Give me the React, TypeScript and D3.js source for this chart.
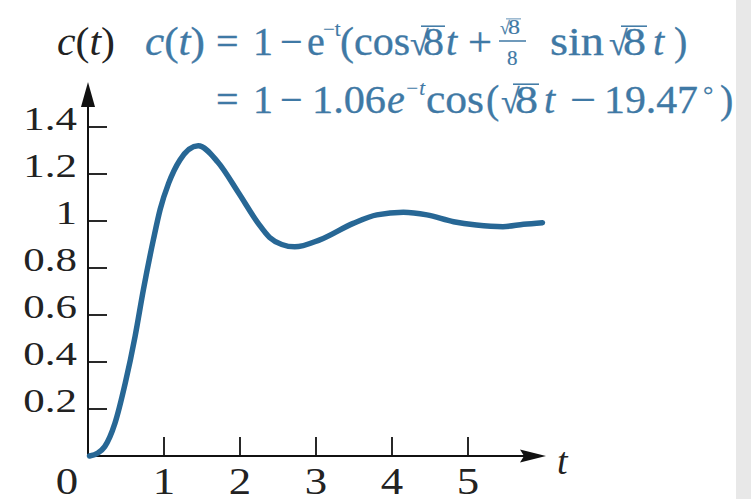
import React from "react";
import * as d3 from "d3";

// Step response c(t), sampled along the drawn curve
const tValues = [0.02, 0.13, 0.22, 0.355, 0.49, 0.62, 0.73, 0.86, 0.95, 1.06, 1.21, 1.45, 1.71, 1.98, 2.24, 2.39, 2.55, 2.72, 3.05, 3.49, 3.8, 4.15, 4.46, 4.81, 5.11, 5.46, 5.73, 5.98];
const cValues = [0.0, 0.013, 0.04, 0.14, 0.31, 0.51, 0.71, 0.92, 1.05, 1.16, 1.26, 1.32, 1.25, 1.12, 0.99, 0.93, 0.9, 0.89, 0.92, 0.99, 1.026, 1.037, 1.026, 0.997, 0.983, 0.976, 0.986, 0.993];

const xTicks = [1, 2, 3, 4, 5];
const xTickLabels = ["1", "2", "3", "4", "5"];
const yTicks = [0.2, 0.4, 0.6, 0.8, 1, 1.2, 1.4];
const yTickLabels = ["0.2", "0.4", "0.6", "0.8", "1", "1.2", "1.4"];

const W = 751;
const H = 499;
const AXIS = "#111";
const CURVE = "#276795";
const INK = "#3f79a5";
const FONT = "'Liberation Serif','Times New Roman',Times,serif";

type SegProps = {
  x: number;
  y: number;
  size?: number;
  italic?: boolean;
  len?: number;
  fill?: string;
  children: React.ReactNode;
};

function Seg({ x, y, size = 40, italic = false, len, fill = INK, children }: SegProps) {
  return (
    <text
      x={x}
      y={y}
      fontSize={size}
      fontFamily={FONT}
      fontStyle={italic ? "italic" : "normal"}
      fill={fill}
      stroke={fill}
      strokeWidth={size / 120}
      textLength={len}
      lengthAdjust={len ? "spacingAndGlyphs" : undefined}
    >
      {children}
    </text>
  );
}

// radical sign followed by an overlined radicand
function Root({ x, y, size = 40, gap = 13, width = 21 }: { x: number; y: number; size?: number; gap?: number; width?: number }) {
  const top = y - size * 0.72;
  return (
    <g>
      <Seg x={x} y={y} size={size * 0.85}>√</Seg>
      <line x1={x + gap - 2} x2={x + gap + width + 1} y1={top} y2={top} stroke={INK} strokeWidth={size / 26} />
      <Seg x={x + gap} y={y} size={size} len={width}>8</Seg>
    </g>
  );
}

export default function App() {
  const x = d3.scaleLinear().domain([0, 6]).range([88, 544]);
  const y = d3.scaleLinear().domain([0, 1.4]).range([456, 127]);

  const pts: [number, number][] = tValues.map((t, i) => [t, cValues[i]]);
  const path = d3
    .line<[number, number]>()
    .x((d) => x(d[0]))
    .y((d) => y(d[1]))
    .curve(d3.curveMonotoneX)(pts);

  const x0 = x(0);
  const y0 = y(0);
  const B1 = 55;
  const B2 = 113;

  return (
    <svg
      width={W}
      height={H}
      viewBox={`0 0 ${W} ${H}`}
      style={{ position: "absolute", left: 0, top: 0, background: "#fff" }}
    >
      <rect x={0} y={0} width={W} height={H} fill="#fff" />
      <rect x={736} y={0} width={W - 736} height={H} fill="#e8e8e8" />

      {/* axes */}
      <line x1={x0} x2={x0} y1={y0 + 1} y2={102} stroke={AXIS} strokeWidth={2} />
      <polygon points={`${x0},82 ${x0 - 7},107 ${x0 + 7},107`} fill={AXIS} />
      <line x1={x0 - 1} x2={524} y1={y0} y2={y0} stroke={AXIS} strokeWidth={2} />
      <polygon points={`546,${y0} 520,${y0 - 6.5} 524,${y0} 520,${y0 + 6.5}`} fill={AXIS} />

      {/* y ticks and labels */}
      {yTicks.map((v, i) => (
        <g key={`y${i}`}>
          <line x1={x0} x2={x0 + 19} y1={y(v)} y2={y(v)} stroke={AXIS} strokeWidth={1.8} />
          <text
            transform={`translate(77,${y(v) + 3}) scale(1.3,1)`}
            textAnchor="end"
            fontSize={33}
            fontFamily={FONT}
            fill="#222"
          >
            {yTickLabels[i]}
          </text>
        </g>
      ))}

      {/* x ticks and labels */}
      {xTicks.map((v, i) => (
        <g key={`x${i}`}>
          <line x1={x(v)} x2={x(v)} y1={y0} y2={y0 - 19} stroke={AXIS} strokeWidth={1.8} />
          <text
            transform={`translate(${x(v)},494) scale(1.15,1)`}
            textAnchor="middle"
            fontSize={39}
            fontFamily={FONT}
            fill="#222"
          >
            {xTickLabels[i]}
          </text>
        </g>
      ))}
      <text
        transform={`translate(${x0 - 21},494) scale(1.15,1)`}
        textAnchor="middle"
        fontSize={39}
        fontFamily={FONT}
        fill="#222"
      >
        0
      </text>
      <text x={557} y={474} fontSize={38} fontFamily={FONT} fontStyle="italic" fill="#222">t</text>

      {/* axis title */}
      <text x={57} y={B1} fontSize={41} fontFamily={FONT} fill="#222" textLength={58} lengthAdjust="spacingAndGlyphs">
        <tspan fontStyle="italic">c</tspan>
        <tspan>(</tspan>
        <tspan fontStyle="italic">t</tspan>
        <tspan>)</tspan>
      </text>

      {/* formula, first line */}
      <text x={145} y={B1} fontSize={41} fontFamily={FONT} fill={INK} stroke={INK} strokeWidth={0.35} textLength={60} lengthAdjust="spacingAndGlyphs">
        <tspan fontStyle="italic">c</tspan>
        <tspan>(</tspan>
        <tspan fontStyle="italic">t</tspan>
        <tspan>)</tspan>
      </text>
      <Seg x={216} y={B1}>=</Seg>
      <Seg x={253} y={B1}>1</Seg>
      <Seg x={280} y={B1}>−</Seg>
      <Seg x={307} y={B1}>e</Seg>
      <Seg x={323} y={B1 - 19} size={21}>−t</Seg>
      <Seg x={340} y={B1} len={70}>(cos</Seg>
      <Root x={410} y={B1} />
      <Seg x={446} y={B1} italic>t</Seg>
      <Seg x={468} y={B1} len={24}>+</Seg>
      <Root x={500} y={B1 - 21} size={21} gap={8} width={12} />
      <line x1={499} x2={526} y1={B1 - 14} y2={B1 - 14} stroke={INK} strokeWidth={1.5} />
      <Seg x={507} y={B1 + 10} size={21}>8</Seg>
      <Seg x={550} y={B1} len={54}>sin</Seg>
      <Root x={609} y={B1} gap={14} width={23} />
      <Seg x={653} y={B1} italic>t</Seg>
      <Seg x={674} y={B1}>)</Seg>

      {/* formula, second line */}
      <Seg x={216} y={B2}>=</Seg>
      <Seg x={253} y={B2}>1</Seg>
      <Seg x={280} y={B2}>−</Seg>
      <Seg x={312} y={B2} len={74}>1.06</Seg>
      <Seg x={387} y={B2} italic>e</Seg>
      <Seg x={405} y={B2 - 18} size={21} italic>−t</Seg>
      <Seg x={426} y={B2} len={58}>cos</Seg>
      <Seg x={486} y={B2}>(</Seg>
      <Root x={501} y={B2} gap={14} width={23} />
      <Seg x={544} y={B2} italic>t</Seg>
      <Seg x={570} y={B2} len={26}>−</Seg>
      <Seg x={604} y={B2} len={94}>19.47</Seg>
      <Seg x={703} y={B2 - 10} size={26}>°</Seg>
      <Seg x={720} y={B2}>)</Seg>

      {/* response curve */}
      <path d={path ?? ""} fill="none" stroke={CURVE} strokeWidth={5.5} strokeLinecap="round" strokeLinejoin="round" />
    </svg>
  );
}
